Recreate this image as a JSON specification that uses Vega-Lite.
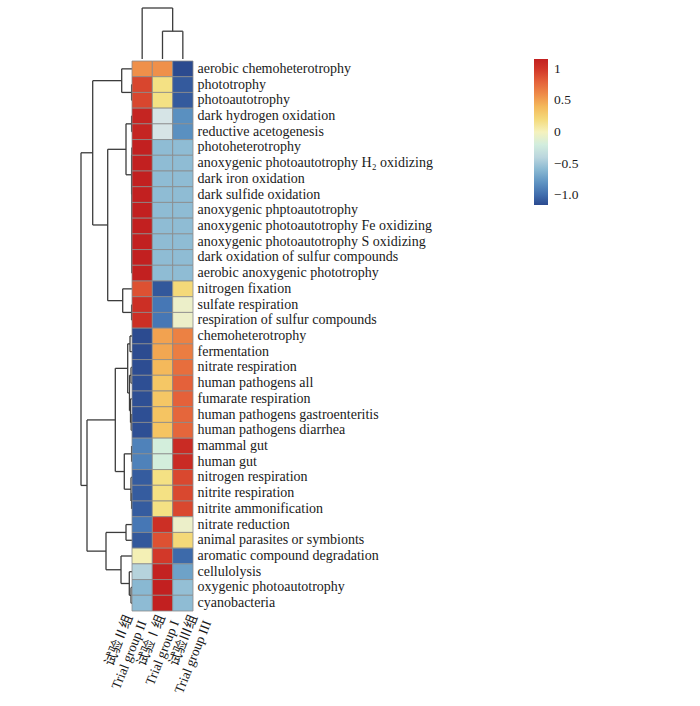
{
  "$schema": "https://vega.github.io/schema/vega-lite/v6.json",
  "padding": {"left": 80, "top": 7, "right": 5, "bottom": 5},
  "background": "white",
  "spacing": 0,
  "config": {"view": {"stroke": null}, "concat": {"spacing": 0}, "font": "'Liberation Serif', 'Noto Sans CJK SC', serif"},
  "datasets": {
    "cells": [
      {"func": "aerobic chemoheterotrophy", "group": "试验Ⅱ组|Trial group II", "z": 0.577},
      {"func": "aerobic chemoheterotrophy", "group": "试验Ⅰ组|Trial group I", "z": 0.577},
      {"func": "aerobic chemoheterotrophy", "group": "试验Ⅲ组|Trial group III", "z": -1.155},
      {"func": "phototrophy", "group": "试验Ⅱ组|Trial group II", "z": 0.93},
      {"func": "phototrophy", "group": "试验Ⅰ组|Trial group I", "z": 0.15},
      {"func": "phototrophy", "group": "试验Ⅲ组|Trial group III", "z": -1.08},
      {"func": "photoautotrophy", "group": "试验Ⅱ组|Trial group II", "z": 0.93},
      {"func": "photoautotrophy", "group": "试验Ⅰ组|Trial group I", "z": 0.15},
      {"func": "photoautotrophy", "group": "试验Ⅲ组|Trial group III", "z": -1.08},
      {"func": "dark hydrogen oxidation", "group": "试验Ⅱ组|Trial group II", "z": 1.12},
      {"func": "dark hydrogen oxidation", "group": "试验Ⅰ组|Trial group I", "z": -0.3},
      {"func": "dark hydrogen oxidation", "group": "试验Ⅲ组|Trial group III", "z": -0.82},
      {"func": "reductive acetogenesis", "group": "试验Ⅱ组|Trial group II", "z": 1.12},
      {"func": "reductive acetogenesis", "group": "试验Ⅰ组|Trial group I", "z": -0.3},
      {"func": "reductive acetogenesis", "group": "试验Ⅲ组|Trial group III", "z": -0.82},
      {"func": "photoheterotrophy", "group": "试验Ⅱ组|Trial group II", "z": 1.155},
      {"func": "photoheterotrophy", "group": "试验Ⅰ组|Trial group I", "z": -0.577},
      {"func": "photoheterotrophy", "group": "试验Ⅲ组|Trial group III", "z": -0.577},
      {"func": "anoxygenic photoautotrophy H₂ oxidizing", "group": "试验Ⅱ组|Trial group II", "z": 1.155},
      {"func": "anoxygenic photoautotrophy H₂ oxidizing", "group": "试验Ⅰ组|Trial group I", "z": -0.577},
      {"func": "anoxygenic photoautotrophy H₂ oxidizing", "group": "试验Ⅲ组|Trial group III", "z": -0.577},
      {"func": "dark iron oxidation", "group": "试验Ⅱ组|Trial group II", "z": 1.155},
      {"func": "dark iron oxidation", "group": "试验Ⅰ组|Trial group I", "z": -0.577},
      {"func": "dark iron oxidation", "group": "试验Ⅲ组|Trial group III", "z": -0.577},
      {"func": "dark sulfide oxidation", "group": "试验Ⅱ组|Trial group II", "z": 1.155},
      {"func": "dark sulfide oxidation", "group": "试验Ⅰ组|Trial group I", "z": -0.577},
      {"func": "dark sulfide oxidation", "group": "试验Ⅲ组|Trial group III", "z": -0.577},
      {"func": "anoxygenic phptoautotrophy", "group": "试验Ⅱ组|Trial group II", "z": 1.155},
      {"func": "anoxygenic phptoautotrophy", "group": "试验Ⅰ组|Trial group I", "z": -0.577},
      {"func": "anoxygenic phptoautotrophy", "group": "试验Ⅲ组|Trial group III", "z": -0.577},
      {"func": "anoxygenic photoautotrophy Fe oxidizing", "group": "试验Ⅱ组|Trial group II", "z": 1.155},
      {"func": "anoxygenic photoautotrophy Fe oxidizing", "group": "试验Ⅰ组|Trial group I", "z": -0.577},
      {"func": "anoxygenic photoautotrophy Fe oxidizing", "group": "试验Ⅲ组|Trial group III", "z": -0.577},
      {"func": "anoxygenic photoautotrophy S oxidizing", "group": "试验Ⅱ组|Trial group II", "z": 1.155},
      {"func": "anoxygenic photoautotrophy S oxidizing", "group": "试验Ⅰ组|Trial group I", "z": -0.577},
      {"func": "anoxygenic photoautotrophy S oxidizing", "group": "试验Ⅲ组|Trial group III", "z": -0.577},
      {"func": "dark oxidation of sulfur compounds", "group": "试验Ⅱ组|Trial group II", "z": 1.155},
      {"func": "dark oxidation of sulfur compounds", "group": "试验Ⅰ组|Trial group I", "z": -0.577},
      {"func": "dark oxidation of sulfur compounds", "group": "试验Ⅲ组|Trial group III", "z": -0.577},
      {"func": "aerobic anoxygenic phototrophy", "group": "试验Ⅱ组|Trial group II", "z": 1.155},
      {"func": "aerobic anoxygenic phototrophy", "group": "试验Ⅰ组|Trial group I", "z": -0.577},
      {"func": "aerobic anoxygenic phototrophy", "group": "试验Ⅲ组|Trial group III", "z": -0.577},
      {"func": "nitrogen fixation", "group": "试验Ⅱ组|Trial group II", "z": 0.88},
      {"func": "nitrogen fixation", "group": "试验Ⅰ组|Trial group I", "z": -1.09},
      {"func": "nitrogen fixation", "group": "试验Ⅲ组|Trial group III", "z": 0.21},
      {"func": "sulfate respiration", "group": "试验Ⅱ组|Trial group II", "z": 1.05},
      {"func": "sulfate respiration", "group": "试验Ⅰ组|Trial group I", "z": -0.95},
      {"func": "sulfate respiration", "group": "试验Ⅲ组|Trial group III", "z": -0.1},
      {"func": "respiration of sulfur compounds", "group": "试验Ⅱ组|Trial group II", "z": 1.05},
      {"func": "respiration of sulfur compounds", "group": "试验Ⅰ组|Trial group I", "z": -0.95},
      {"func": "respiration of sulfur compounds", "group": "试验Ⅲ组|Trial group III", "z": -0.1},
      {"func": "chemoheterotrophy", "group": "试验Ⅱ组|Trial group II", "z": -1.15},
      {"func": "chemoheterotrophy", "group": "试验Ⅰ组|Trial group I", "z": 0.5},
      {"func": "chemoheterotrophy", "group": "试验Ⅲ组|Trial group III", "z": 0.65},
      {"func": "fermentation", "group": "试验Ⅱ组|Trial group II", "z": -1.15},
      {"func": "fermentation", "group": "试验Ⅰ组|Trial group I", "z": 0.48},
      {"func": "fermentation", "group": "试验Ⅲ组|Trial group III", "z": 0.67},
      {"func": "nitrate respiration", "group": "试验Ⅱ组|Trial group II", "z": -1.14},
      {"func": "nitrate respiration", "group": "试验Ⅰ组|Trial group I", "z": 0.4},
      {"func": "nitrate respiration", "group": "试验Ⅲ组|Trial group III", "z": 0.74},
      {"func": "human pathogens all", "group": "试验Ⅱ组|Trial group II", "z": -1.13},
      {"func": "human pathogens all", "group": "试验Ⅰ组|Trial group I", "z": 0.33},
      {"func": "human pathogens all", "group": "试验Ⅲ组|Trial group III", "z": 0.8},
      {"func": "fumarate respiration", "group": "试验Ⅱ组|Trial group II", "z": -1.13},
      {"func": "fumarate respiration", "group": "试验Ⅰ组|Trial group I", "z": 0.33},
      {"func": "fumarate respiration", "group": "试验Ⅲ组|Trial group III", "z": 0.8},
      {"func": "human pathogens gastroenteritis", "group": "试验Ⅱ组|Trial group II", "z": -1.13},
      {"func": "human pathogens gastroenteritis", "group": "试验Ⅰ组|Trial group I", "z": 0.35},
      {"func": "human pathogens gastroenteritis", "group": "试验Ⅲ组|Trial group III", "z": 0.78},
      {"func": "human pathogens diarrhea", "group": "试验Ⅱ组|Trial group II", "z": -1.13},
      {"func": "human pathogens diarrhea", "group": "试验Ⅰ组|Trial group I", "z": 0.35},
      {"func": "human pathogens diarrhea", "group": "试验Ⅲ组|Trial group III", "z": 0.78},
      {"func": "mammal gut", "group": "试验Ⅱ组|Trial group II", "z": -0.89},
      {"func": "mammal gut", "group": "试验Ⅰ组|Trial group I", "z": -0.19},
      {"func": "mammal gut", "group": "试验Ⅲ组|Trial group III", "z": 1.08},
      {"func": "human gut", "group": "试验Ⅱ组|Trial group II", "z": -0.89},
      {"func": "human gut", "group": "试验Ⅰ组|Trial group I", "z": -0.19},
      {"func": "human gut", "group": "试验Ⅲ组|Trial group III", "z": 1.08},
      {"func": "nitrogen respiration", "group": "试验Ⅱ组|Trial group II", "z": -1.07},
      {"func": "nitrogen respiration", "group": "试验Ⅰ组|Trial group I", "z": 0.15},
      {"func": "nitrogen respiration", "group": "试验Ⅲ组|Trial group III", "z": 0.92},
      {"func": "nitrite respiration", "group": "试验Ⅱ组|Trial group II", "z": -1.07},
      {"func": "nitrite respiration", "group": "试验Ⅰ组|Trial group I", "z": 0.15},
      {"func": "nitrite respiration", "group": "试验Ⅲ组|Trial group III", "z": 0.92},
      {"func": "nitrite ammonification", "group": "试验Ⅱ组|Trial group II", "z": -1.07},
      {"func": "nitrite ammonification", "group": "试验Ⅰ组|Trial group I", "z": 0.15},
      {"func": "nitrite ammonification", "group": "试验Ⅲ组|Trial group III", "z": 0.92},
      {"func": "nitrate reduction", "group": "试验Ⅱ组|Trial group II", "z": -0.95},
      {"func": "nitrate reduction", "group": "试验Ⅰ组|Trial group I", "z": 1.05},
      {"func": "nitrate reduction", "group": "试验Ⅲ组|Trial group III", "z": -0.1},
      {"func": "animal parasites or symbionts", "group": "试验Ⅱ组|Trial group II", "z": -1.09},
      {"func": "animal parasites or symbionts", "group": "试验Ⅰ组|Trial group I", "z": 0.88},
      {"func": "animal parasites or symbionts", "group": "试验Ⅲ组|Trial group III", "z": 0.21},
      {"func": "aromatic compound degradation", "group": "试验Ⅱ组|Trial group II", "z": 0.02},
      {"func": "aromatic compound degradation", "group": "试验Ⅰ组|Trial group I", "z": 0.99},
      {"func": "aromatic compound degradation", "group": "试验Ⅲ组|Trial group III", "z": -1.01},
      {"func": "cellulolysis", "group": "试验Ⅱ组|Trial group II", "z": -0.42},
      {"func": "cellulolysis", "group": "试验Ⅰ组|Trial group I", "z": 1.14},
      {"func": "cellulolysis", "group": "试验Ⅲ组|Trial group III", "z": -0.72},
      {"func": "oxygenic photoautotrophy", "group": "试验Ⅱ组|Trial group II", "z": -0.6},
      {"func": "oxygenic photoautotrophy", "group": "试验Ⅰ组|Trial group I", "z": 1.155},
      {"func": "oxygenic photoautotrophy", "group": "试验Ⅲ组|Trial group III", "z": -0.555},
      {"func": "cyanobacteria", "group": "试验Ⅱ组|Trial group II", "z": -0.58},
      {"func": "cyanobacteria", "group": "试验Ⅰ组|Trial group I", "z": 1.155},
      {"func": "cyanobacteria", "group": "试验Ⅲ组|Trial group III", "z": -0.575}
    ],
    "rowtree": [
      {"d1": 0.4, "d2": 0.4, "y1": 1.5, "y2": 2.5},
      {"d1": 0, "d2": 0.4, "y1": 1.5, "y2": 1.5},
      {"d1": 0, "d2": 0.4, "y1": 2.5, "y2": 2.5},
      {"d1": 10.3, "d2": 10.3, "y1": 0.5, "y2": 2.0},
      {"d1": 0, "d2": 10.3, "y1": 0.5, "y2": 0.5},
      {"d1": 0.4, "d2": 10.3, "y1": 2.0, "y2": 2.0},
      {"d1": 0.4, "d2": 0.4, "y1": 3.5, "y2": 4.5},
      {"d1": 0, "d2": 0.4, "y1": 3.5, "y2": 3.5},
      {"d1": 0, "d2": 0.4, "y1": 4.5, "y2": 4.5},
      {"d1": 0.2, "d2": 0.2, "y1": 5.5, "y2": 6.5},
      {"d1": 0.2, "d2": 0.2, "y1": 7.5, "y2": 13.5},
      {"d1": 0.4, "d2": 0.4, "y1": 6.0, "y2": 8.48},
      {"d1": 0.2, "d2": 0.4, "y1": 6.0, "y2": 6.0},
      {"d1": 0.2, "d2": 0.4, "y1": 8.48, "y2": 8.48},
      {"d1": 6, "d2": 6, "y1": 4.0, "y2": 7.24},
      {"d1": 0.4, "d2": 6, "y1": 4.0, "y2": 4.0},
      {"d1": 0.4, "d2": 6, "y1": 7.24, "y2": 7.24},
      {"d1": 0.4, "d2": 0.4, "y1": 15.5, "y2": 16.5},
      {"d1": 9.3, "d2": 9.3, "y1": 14.5, "y2": 16.0},
      {"d1": 0, "d2": 9.3, "y1": 14.5, "y2": 14.5},
      {"d1": 0.4, "d2": 9.3, "y1": 16.0, "y2": 16.0},
      {"d1": 24.3, "d2": 24.3, "y1": 5.62, "y2": 15.25},
      {"d1": 6, "d2": 24.3, "y1": 5.62, "y2": 5.62},
      {"d1": 9.3, "d2": 24.3, "y1": 15.25, "y2": 15.25},
      {"d1": 39.3, "d2": 39.3, "y1": 1.25, "y2": 10.435},
      {"d1": 10.3, "d2": 39.3, "y1": 1.25, "y2": 1.25},
      {"d1": 24.3, "d2": 39.3, "y1": 10.435, "y2": 10.435},
      {"d1": 51, "d2": 51, "y1": 5.84, "y2": 27.01},
      {"d1": 39.3, "d2": 51, "y1": 5.84, "y2": 5.84},
      {"d1": 45, "d2": 51, "y1": 27.01, "y2": 27.01},
      {"d1": 2, "d2": 2, "y1": 17.5, "y2": 18.5},
      {"d1": 0, "d2": 2, "y1": 17.5, "y2": 17.5},
      {"d1": 0, "d2": 2, "y1": 18.5, "y2": 18.5},
      {"d1": 1, "d2": 1, "y1": 19.5, "y2": 20.5},
      {"d1": 0, "d2": 1, "y1": 19.5, "y2": 19.5},
      {"d1": 0, "d2": 1, "y1": 20.5, "y2": 20.5},
      {"d1": 0.8, "d2": 0.8, "y1": 22.5, "y2": 23.5},
      {"d1": 0, "d2": 0.8, "y1": 22.5, "y2": 22.5},
      {"d1": 0, "d2": 0.8, "y1": 23.5, "y2": 23.5},
      {"d1": 1.5, "d2": 1.5, "y1": 21.5, "y2": 23.0},
      {"d1": 0, "d2": 1.5, "y1": 21.5, "y2": 21.5},
      {"d1": 0.8, "d2": 1.5, "y1": 23.0, "y2": 23.0},
      {"d1": 2.5, "d2": 2.5, "y1": 20.0, "y2": 22.25},
      {"d1": 1, "d2": 2.5, "y1": 20.0, "y2": 20.0},
      {"d1": 1.5, "d2": 2.5, "y1": 22.25, "y2": 22.25},
      {"d1": 4.3, "d2": 4.3, "y1": 18.0, "y2": 21.125},
      {"d1": 2, "d2": 4.3, "y1": 18.0, "y2": 18.0},
      {"d1": 2.5, "d2": 4.3, "y1": 21.125, "y2": 21.125},
      {"d1": 0.4, "d2": 0.4, "y1": 24.5, "y2": 25.5},
      {"d1": 0.4, "d2": 0.4, "y1": 27.5, "y2": 28.5},
      {"d1": 1, "d2": 1, "y1": 26.5, "y2": 28.0},
      {"d1": 0, "d2": 1, "y1": 26.5, "y2": 26.5},
      {"d1": 0.4, "d2": 1, "y1": 28.0, "y2": 28.0},
      {"d1": 7.7, "d2": 7.7, "y1": 25.0, "y2": 27.25},
      {"d1": 0.4, "d2": 7.7, "y1": 25.0, "y2": 25.0},
      {"d1": 1, "d2": 7.7, "y1": 27.25, "y2": 27.25},
      {"d1": 16.7, "d2": 16.7, "y1": 19.56, "y2": 26.125},
      {"d1": 4.3, "d2": 16.7, "y1": 19.56, "y2": 19.56},
      {"d1": 7.7, "d2": 16.7, "y1": 26.125, "y2": 26.125},
      {"d1": 6, "d2": 6, "y1": 29.5, "y2": 30.5},
      {"d1": 0, "d2": 6, "y1": 29.5, "y2": 29.5},
      {"d1": 0, "d2": 6, "y1": 30.5, "y2": 30.5},
      {"d1": 1, "d2": 1, "y1": 33.5, "y2": 34.5},
      {"d1": 0, "d2": 1, "y1": 33.5, "y2": 33.5},
      {"d1": 0, "d2": 1, "y1": 34.5, "y2": 34.5},
      {"d1": 2.7, "d2": 2.7, "y1": 32.5, "y2": 34.0},
      {"d1": 0, "d2": 2.7, "y1": 32.5, "y2": 32.5},
      {"d1": 1, "d2": 2.7, "y1": 34.0, "y2": 34.0},
      {"d1": 11, "d2": 11, "y1": 31.5, "y2": 33.25},
      {"d1": 0, "d2": 11, "y1": 31.5, "y2": 31.5},
      {"d1": 2.7, "d2": 11, "y1": 33.25, "y2": 33.25},
      {"d1": 26, "d2": 26, "y1": 30.0, "y2": 32.375},
      {"d1": 6, "d2": 26, "y1": 30.0, "y2": 30.0},
      {"d1": 11, "d2": 26, "y1": 32.375, "y2": 32.375},
      {"d1": 45, "d2": 45, "y1": 22.84, "y2": 31.19},
      {"d1": 16.7, "d2": 45, "y1": 22.84, "y2": 22.84},
      {"d1": 26, "d2": 45, "y1": 31.19, "y2": 31.19}
    ],
    "coltree": [
      {"c1": 1.5, "c2": 2.5, "h1": 27.8, "h2": 27.8},
      {"c1": 1.5, "c2": 1.5, "h1": 0, "h2": 27.8},
      {"c1": 2.5, "c2": 2.5, "h1": 0, "h2": 27.8},
      {"c1": 0.5, "c2": 2.0, "h1": 51, "h2": 51},
      {"c1": 0.5, "c2": 0.5, "h1": 0, "h2": 51},
      {"c1": 2.0, "c2": 2.0, "h1": 27.8, "h2": 51}
    ]
  },
  "vconcat": [
    {
      "bounds": "flush",
      "spacing": 0,
      "hconcat": [
        {
          "width": 51, "height": 51,
          "data": {"values": [{"a": 0}]},
          "mark": {"type": "point", "opacity": 0},
          "encoding": {}
        },
        {
          "width": 61, "height": 51,
          "data": {"name": "coltree"},
          "mark": {"type": "rule", "stroke": "#3c3c3c", "strokeWidth": 1.3},
          "encoding": {
            "x": {"field": "c1", "type": "quantitative", "scale": {"domain": [0, 3], "nice": false, "zero": false}, "axis": null},
            "x2": {"field": "c2"},
            "y": {"field": "h1", "type": "quantitative", "scale": {"domain": [0, 51], "nice": false}, "axis": null},
            "y2": {"field": "h2"}
          }
        }
      ]
    },
    {
      "bounds": "flush",
      "spacing": 0,
      "hconcat": [
        {
          "width": 51, "height": 550,
          "data": {"name": "rowtree"},
          "mark": {"type": "rule", "stroke": "#3c3c3c", "strokeWidth": 1.3},
          "encoding": {
            "x": {"field": "d1", "type": "quantitative", "scale": {"domain": [0, 51], "reverse": true, "nice": false, "zero": false}, "axis": null},
            "x2": {"field": "d2"},
            "y": {"field": "y1", "type": "quantitative", "scale": {"domain": [0, 35], "reverse": true, "nice": false, "zero": false}, "axis": null},
            "y2": {"field": "y2"}
          }
        },
        {
          "width": 61, "height": 550,
          "data": {"name": "cells"},
          "mark": {"type": "rect", "stroke": "#8a8a8a", "strokeWidth": 0.8},
          "encoding": {
            "x": {
              "field": "group", "type": "nominal",
              "sort": ["试验Ⅱ组|Trial group II", "试验Ⅰ组|Trial group I", "试验Ⅲ组|Trial group III"],
              "axis": {
                "orient": "bottom", "title": null, "ticks": false, "domain": false,
                "labelAngle": -68, "labelAlign": "right", "labelBaseline": "middle",
                "labelExpr": "split(datum.value, '|')",
                "labelOffset": {
                  "condition": [
                    {"test": "datum.value === '试验Ⅱ组|Trial group II'", "value": -13},
                    {"test": "datum.value === '试验Ⅰ组|Trial group I'", "value": -1}
                  ],
                  "value": 11
                },
                "labelFont": "'Liberation Serif', 'Noto Sans CJK SC', serif",
                "labelFontSize": 13.5, "labelColor": "#1a1a1a", "labelPadding": 4,
                "labelLineHeight": 15, "labelOverlap": false, "labelLimit": 300
              }
            },
            "y": {
              "field": "func", "type": "nominal", "sort": null,
              "axis": {
                "orient": "right", "title": null, "ticks": false, "domain": false,
                "labelFont": "'Liberation Serif', serif",
                "labelFontSize": 14, "labelColor": "#1a1a1a", "labelPadding": 4,
                "labelLimit": 400, "labelOverlap": false
              }
            },
            "color": {
              "field": "z", "type": "quantitative",
              "scale": {
                "domain": [-1.155, -0.95, -0.577, -0.3, -0.1, 0, 0.15, 0.35, 0.577, 0.8, 1.0, 1.155],
                "range": ["#2b4a8f", "#4677b5", "#8fbcd4", "#d6e4e6", "#ecefc9", "#f5f2bd", "#f4e184", "#f5c462", "#ef904a", "#e4613a", "#d13528", "#c22020"]
              },
              "legend": {
                "orient": "none", "legendX": 453, "legendY": 51,
                "title": null, "direction": "vertical",
                "gradientLength": 146, "gradientThickness": 14, "gradientStrokeWidth": 0,
                "values": [-1, -0.5, 0, 0.5, 1],
                "labelExpr": "datum.value == 1 ? '1' : datum.value == 0.5 ? '0.5' : datum.value == 0 ? '0' : datum.value == -0.5 ? '−0.5' : '−1.0'",
                "labelFont": "'Liberation Serif', serif", "labelFontSize": 13.5, "labelColor": "#1a1a1a",
                "labelOffset": 6, "labelOverlap": false
              }
            }
          }
        }
      ]
    }
  ]
}
